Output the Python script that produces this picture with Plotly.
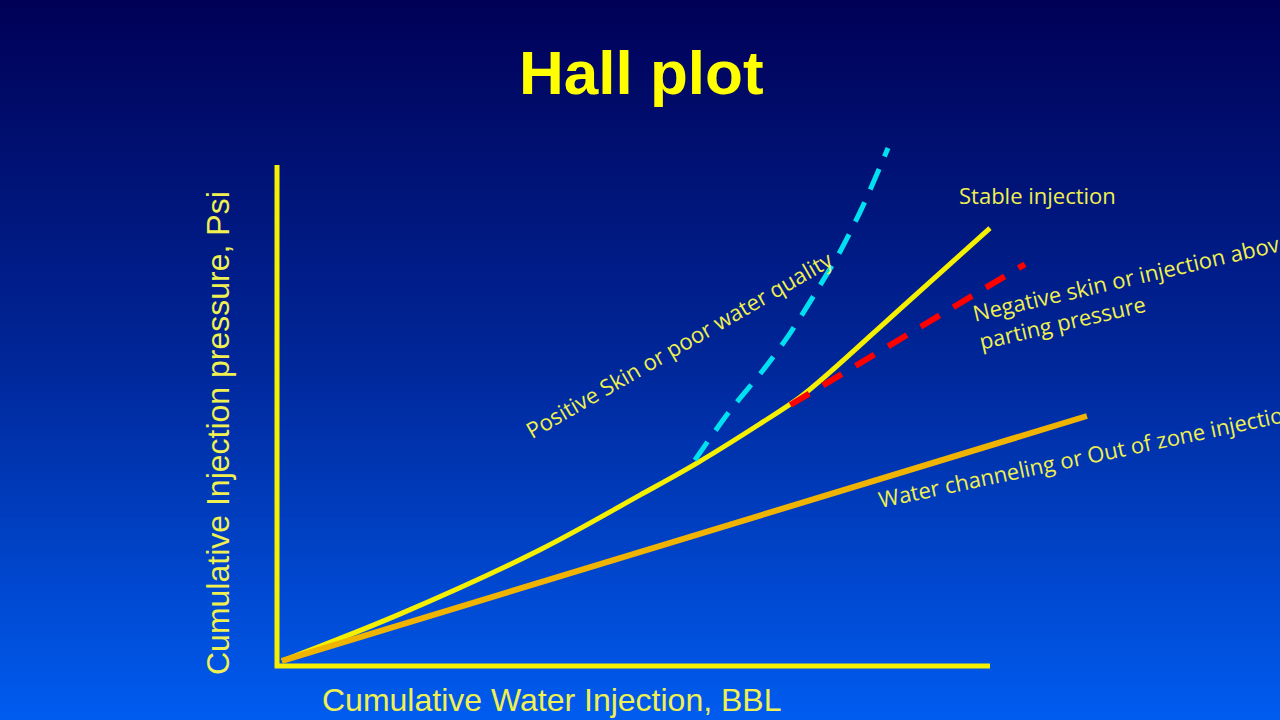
import plotly.graph_objects as go

# Hall plot schematic, arbitrary units (0-100 on both axes)
stable_x = [0.7, 17.3, 36.9, 50.9, 58.9, 67.7, 73.4, 77.6, 87.4, 100.0]
stable_y = [1.0, 10.4, 23.2, 34.1, 40.5, 48.3, 53.7, 58.7, 71.3, 87.4]

skin_x = [58.6, 63.5, 68.2, 72.0, 75.7, 79.0, 82.1, 85.7]
skin_y = [41.1, 50.9, 59.1, 66.5, 74.9, 82.8, 91.6, 103.4]

neg_x = [72.0, 104.9]
neg_y = [52.1, 80.2]

chan_x = [0.7, 113.6]
chan_y = [1.0, 49.9]

axis_x = [0, 0, 100]
axis_y = [100, 0, 0]

fig = go.Figure()

# background gradient, top navy to bottom blue
stops = [(0.0, (0, 0, 86)), (0.5, (0, 38, 152)), (1.0, (0, 92, 240))]
n = 90
for i in range(n):
    t = (i + 0.5) / n
    for (a, ca), (b, cb) in zip(stops[:-1], stops[1:]):
        if a <= t <= b:
            f = (t - a) / (b - a)
            c = [round(ca[k] + (cb[k] - ca[k]) * f) for k in range(3)]
            break
    fig.add_shape(type="rect", xref="paper", yref="paper",
                  x0=0, x1=1, y0=1 - (i + 1) / n, y1=1 - i / n + 0.002,
                  fillcolor="rgb(%d,%d,%d)" % tuple(c), line_width=0, layer="below")

fig.add_trace(go.Scatter(x=axis_x, y=axis_y, mode="lines",
                         line=dict(color="#f5f000", width=5)))
fig.add_trace(go.Scatter(x=stable_x, y=stable_y, mode="lines",
                         line=dict(color="#f5f000", width=5, shape="spline", smoothing=1.0)))
fig.add_trace(go.Scatter(x=chan_x, y=chan_y, mode="lines",
                         line=dict(color="#f0b400", width=6)))
fig.add_trace(go.Scatter(x=skin_x, y=skin_y, mode="lines",
                         line=dict(color="#00e0f0", width=5, shape="spline",
                                   smoothing=0.8, dash="22px,14px")))
fig.add_trace(go.Scatter(x=neg_x, y=neg_y, mode="lines",
                         line=dict(color="#ff0000", width=6, dash="22px,16px")))

lab = dict(family="Open Sans", size=22, color="#f0f050")
fig.add_annotation(x=1037, y=195, text="Stable injection", font=lab)
fig.add_annotation(x=679, y=344, text="Positive Skin or poor water quality",
                   textangle=-30, font=lab)
fig.add_annotation(x=1135, y=290, text="Negative skin or injection above<br>parting pressure",
                   textangle=-13, align="left", font=lab)
fig.add_annotation(x=1087, y=455, text="Water channeling or Out of zone injection",
                   textangle=-12, font=lab)

axfont = dict(family="Liberation Sans, Arial", size=32, color="#f0f050")
fig.add_annotation(x=551, y=700, text="Cumulative Water Injection, BBL", font=axfont)
fig.add_annotation(x=218, y=433, text="Cumulative Injection pressure, Psi",
                   textangle=-90, font=axfont)
fig.add_annotation(x=641, y=72, text="<b>Hall plot</b>",
                   font=dict(family="Liberation Sans, Arial", size=62, color="#ffff00"))

# annotations above are placed in pixel units via secondary axes
fig.update_annotations(xref="x2", yref="y2", showarrow=False,
                       xanchor="center", yanchor="middle")

fig.update_layout(
    width=1280, height=720,
    margin=dict(l=0, r=0, t=0, b=0),
    paper_bgcolor="rgba(0,0,0,0)", plot_bgcolor="rgba(0,0,0,0)",
    showlegend=False,
    xaxis=dict(range=[-277 / 7.13, (1280 - 277) / 7.13], visible=False, domain=[0, 1]),
    yaxis=dict(range=[(666 - 720) / 5.01, 666 / 5.01], visible=False, domain=[0, 1]),
    xaxis2=dict(range=[0, 1280], visible=False, overlaying="x"),
    yaxis2=dict(range=[720, 0], visible=False, overlaying="y"),
)

fig.write_html("out.html", config={"displayModeBar": False},
               post_script="document.body.style.margin='0';")
